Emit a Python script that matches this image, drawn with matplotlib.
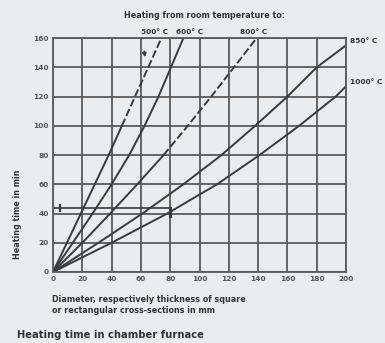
import matplotlib
matplotlib.use("Agg")
import matplotlib.pyplot as plt

# heating time (min) vs diameter (mm) for each target temperature
t_levels = [0, 20, 40, 60, 80, 100, 120, 140, 160]
d_500 = [0, 9.5, 19, 28.5, 38, 47, 56, 65, 74]
d_600 = [0, 13.5, 27, 40, 52, 62.5, 72, 80.5, 89]
d_800 = [0, 20, 39, 57.5, 75.5, 92, 108, 123.5, 139]
t_850 = [0, 20, 40, 60, 80, 100, 120, 140, 155]
d_850 = [0, 31, 61, 89, 115, 138, 160, 180, 200]
t_1000 = [0, 20, 40, 60, 80, 100, 120, 127]
d_1000 = [0, 40, 78, 112, 141, 168, 193, 200]

# dashed above these times
dash_from = {"500": 100, "800": 80}

top_labels = ["500° C", "600° C", "800° C"]
top_label_x = [69, 93, 137]
right_labels = ["850° C", "1000° C"]
right_label_y = [155, 127]

x_ticks = list(range(0, 201, 20))
y_ticks = list(range(0, 161, 20))

# example reading: 80 mm -> about 43 min
ex_d = 80
ex_t = 43.5

bg = "#eaedf0"
ink = "#3a3a3a"

fig = plt.figure(figsize=(3.85, 3.43), dpi=100, facecolor=bg)
ax = fig.add_axes([0.1377, 0.207, 0.761, 0.682], facecolor=bg)

ax.set_xlim(0, 200)
ax.set_ylim(0, 160)
ax.set_xticks(x_ticks)
ax.set_yticks(y_ticks)
ax.grid(True, color="#5a5a5a", linewidth=1.3)
ax.set_axisbelow(True)
for s in ax.spines.values():
    s.set_color("#5a5a5a")
    s.set_linewidth(1.3)
ax.tick_params(length=0, labelsize=5.3, colors="#555555", pad=3)
for lab in ax.get_xticklabels() + ax.get_yticklabels():
    lab.set_fontweight("bold")


def draw(d, t, cut=None):
    if cut is None:
        ax.plot(d, t, color=ink, lw=1.4)
        return
    i = t.index(cut)
    ax.plot(d[:i + 1], t[:i + 1], color=ink, lw=1.4)
    ax.plot(d[i:], t[i:], color=ink, lw=1.4, ls=(0, (4, 1.5)))


draw(d_500, t_levels, dash_from["500"])
draw(d_600, t_levels)
draw(d_800, t_levels, dash_from["800"])
draw(d_850, t_850)
draw(d_1000, t_1000)

# example reading marks
ax.plot([0, ex_d], [ex_t, ex_t], color=ink, lw=1.2)
ax.plot([5, 5], [ex_t - 2, ex_t + 2], color=ink, lw=1.6)
ax.plot([ex_d, ex_d], [ex_t - 5, ex_t], color=ink, lw=2.2)
ax.annotate("", xy=(63, 145), xytext=(62, 153),
            arrowprops=dict(arrowstyle="-|>", color=ink, lw=1, mutation_scale=6))

fs = 5.3
for lab, x in zip(top_labels, top_label_x):
    ax.text(x, 162, lab, ha="center", va="bottom", fontsize=fs,
            fontweight="bold", color="#333333")
for lab, y in zip(right_labels, right_label_y):
    ax.text(203, y + 1, lab, ha="left", va="bottom", fontsize=fs,
            fontweight="bold", color="#333333")

fig.text(0.53, 0.955, "Heating from room temperature to:", ha="center",
         va="center", fontsize=5.8, fontweight="bold", color="#333333")
fig.text(0.045, 0.505, "Heating time in min", rotation=90, ha="center",
         va="top", fontsize=5.8, fontweight="bold", color="#333333")
fig.text(0.135, 0.14, "Diameter, respectively thickness of square\n"
         "or rectangular cross-sections in mm", ha="left", va="top",
         fontsize=5.8, fontweight="bold", color="#333333", linespacing=1.3)
fig.text(0.045, 0.008, "Heating time in chamber furnace", ha="left",
         va="bottom", fontsize=7.2, fontweight="bold", color="#333333")

fig.savefig("out.png", dpi=100, facecolor=bg)
